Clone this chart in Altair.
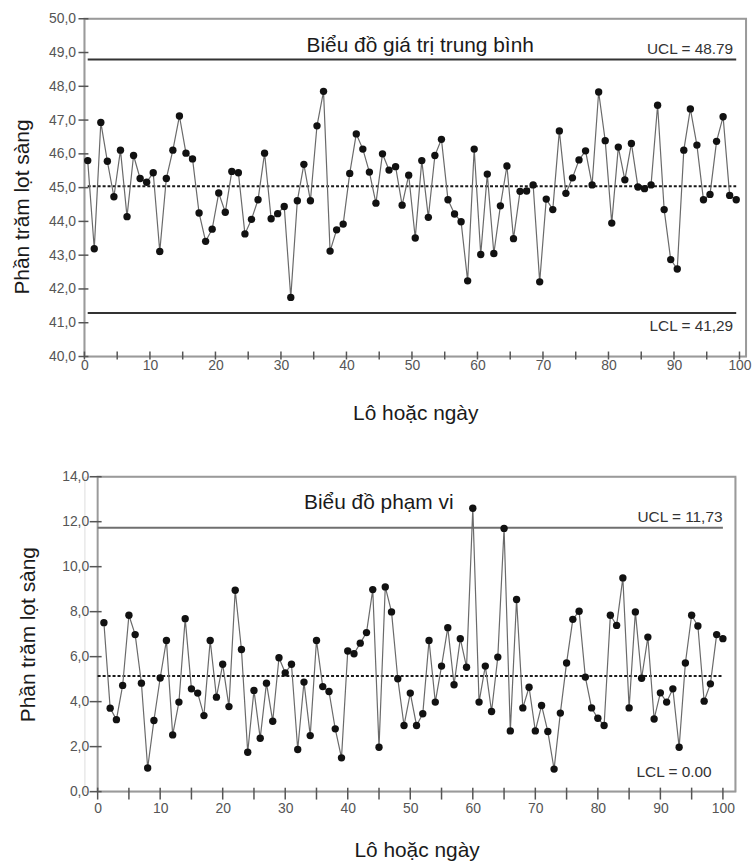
import altair as alt
import pandas as pd

# Lot / day numbers
lots = list(range(1, 101))

# Subgroup means (%)
mean_values = [
    45.80, 43.19, 46.93, 45.78, 44.73, 46.11, 44.14, 45.95, 45.27, 45.16,
    45.44, 43.11, 45.27, 46.11, 47.12, 46.02, 45.85, 44.25, 43.41, 43.77,
    44.84, 44.27, 45.48, 45.44, 43.63, 44.06, 44.64, 46.02, 44.08, 44.23,
    44.44, 41.75, 44.61, 45.69, 44.61, 46.83, 47.85, 43.12, 43.75, 43.92,
    45.42, 46.59, 46.14, 45.46, 44.54, 46.00, 45.52, 45.62, 44.48, 45.37,
    43.51, 45.80, 44.12, 45.95, 46.43, 44.64, 44.22, 43.99, 42.24, 46.14,
    43.02, 45.40, 43.05, 44.46, 45.64, 43.49, 44.89, 44.90, 45.08, 42.21,
    44.66, 44.35, 46.68, 44.83, 45.29, 45.82, 46.09, 45.08, 47.83, 46.39,
    43.95, 46.20, 45.23, 46.31, 45.02, 44.97, 45.08, 47.44, 44.35, 42.87,
    42.59, 46.11, 47.33, 46.26, 44.64, 44.80, 46.37, 47.10, 44.77, 44.64,
]

# Subgroup ranges (%)
range_values = [
    7.51, 3.71, 3.20, 4.72, 7.84, 6.98, 4.82, 1.05, 3.16, 5.05,
    6.72, 2.52, 3.98, 7.69, 4.57, 4.38, 3.38, 6.72, 4.20, 5.66,
    3.78, 8.95, 6.32, 1.75, 4.50, 2.37, 4.82, 3.13, 5.95, 5.28,
    5.66, 1.87, 4.87, 2.49, 6.72, 4.67, 4.45, 2.79, 1.50, 6.25,
    6.13, 6.60, 7.07, 8.98, 1.97, 9.10, 7.99, 5.02, 2.94, 4.38,
    2.94, 3.46, 6.72, 3.98, 5.58, 7.29, 4.75, 6.80, 5.53, 12.60,
    3.98, 5.58, 3.56, 5.98, 11.70, 2.70, 8.54, 3.72, 4.64, 2.70,
    3.83, 2.67, 1.00, 3.49, 5.72, 7.66, 8.02, 5.09, 3.72, 3.26,
    2.94, 7.84, 7.39, 9.50, 3.72, 7.99, 5.04, 6.87, 3.23, 4.39,
    3.98, 4.57, 1.97, 5.72, 7.84, 7.36, 4.02, 4.79, 6.98, 6.80,
]

# Control limits
mean_center, mean_ucl, mean_lcl = 45.04, 48.79, 41.29
range_center, range_ucl, range_lcl = 5.14, 11.73, 0.00

# Axis tick values
x_label_ticks = list(range(0, 101, 10))
x_minor_ticks = list(range(0, 101, 5))
mean_y_ticks = list(range(40, 51))
range_y_ticks = list(range(0, 15, 2))

FONT = "Liberation Sans"
FRAME = "#9a9a9a"
TICK = "#555555"
LABEL = "#555555"
INK = "#1a1a1a"


def panel(values, shift, x_domain, y_domain, y_ticks, center, ucl, lcl,
          heading, ucl_label, lcl_label, g):
    W, H, L = g["W"], g["H"], g["inset"]
    df = pd.DataFrame({"lot": lots, "value": values})
    base = alt.Chart(df).transform_calculate(pos=f"datum.lot - {shift}")

    # the plot frame starts `inset` px right of the panel origin
    xs = alt.Scale(domain=x_domain, range=[L, L + W], nice=False, zero=False)
    ys = alt.Scale(domain=y_domain, nice=False, zero=False)
    x_axis = alt.Axis(
        values=x_label_ticks, ticks=False, tickSize=0, domain=False, grid=False,
        labelFlush=False, labelPadding=g["xlabpad"], labelFontSize=14,
        labelColor=LABEL, labelFont=FONT,
        title="Lô hoặc ngày", titlePadding=g["xtitlepad"], titleFontSize=21,
        titleFontWeight="normal", titleColor=INK, titleFont=FONT,
    )
    y_axis = alt.Axis(
        values=y_ticks, ticks=False, tickSize=0, domain=False, grid=False,
        offset=-L,
        labelExpr="replace(format(datum.value, '.1f'), '.', ',')",
        labelPadding=g["ylabpad"], labelFontSize=14, labelColor=LABEL,
        labelFont=FONT,
        title="Phần trăm lọt sàng", titlePadding=g["ytitlepad"],
        titleY=g["ytitle_y"],
        titleFontSize=21, titleFontWeight="normal", titleColor=INK,
        titleFont=FONT,
    )

    def X(field):
        return alt.X(field, type="quantitative", scale=xs, axis=x_axis)

    def Y(field):
        return alt.Y(field, type="quantitative", scale=ys, axis=y_axis)

    def Yd(value):
        return alt.Y(datum=value, type="quantitative", scale=ys, axis=y_axis)

    frame = alt.Chart(pd.DataFrame({"k": [0]})).mark_rect(
        fill="white", fillOpacity=0, stroke=FRAME, strokeWidth=2
    ).encode(
        x=alt.X(datum=x_domain[0], type="quantitative", scale=xs, axis=x_axis),
        x2=alt.X2(datum=x_domain[1]),
        y=Yd(y_domain[0]),
        y2=alt.Y2(datum=y_domain[1]),
    )

    series = base.mark_line(color="#6a6a6a", strokeWidth=1.2).encode(
        x=X("pos"), y=Y("value")
    )
    dots = base.mark_circle(color="#111111", size=55, opacity=1).encode(
        x=X("pos"), y=Y("value")
    )

    span = base.transform_aggregate(x0="min(pos)", x1="max(pos)")
    if g["from_axis"]:
        span = span.transform_calculate(x0=str(x_domain[0]))
    ucl_line = span.mark_rule(color=g["limit_color"], strokeWidth=2).encode(
        x=X("x0"), x2="x1", y=Yd(ucl)
    )
    mid_line = span.mark_rule(color=INK, strokeWidth=2, strokeDash=[3, 2]).encode(
        x=X("x0"), x2="x1", y=Yd(center)
    )
    layers = [frame, ucl_line, mid_line]
    if lcl > y_domain[0]:
        lcl_line = span.mark_rule(color=g["limit_color"], strokeWidth=2).encode(
            x=X("x0"), x2="x1", y=Yd(lcl)
        )
        layers.append(lcl_line)

    x_tick_marks = alt.Chart(pd.DataFrame({"t": x_minor_ticks})).mark_rule(
        color=TICK, strokeWidth=1.5
    ).encode(x=X("t"), y=alt.value(H - g["xt_in"]), y2=alt.value(H + g["xt_out"]))
    y_tick_marks = alt.Chart(pd.DataFrame({"t": y_ticks})).mark_rule(
        color=TICK, strokeWidth=1.5
    ).encode(y=Y("t"), x=alt.value(L - g["yt_out"]), x2=alt.value(L + g["yt_in"]))

    texts = pd.DataFrame({
        "label": [heading, ucl_label, lcl_label],
    })
    head = alt.Chart(texts.iloc[[0]]).mark_text(
        font=FONT, fontSize=21, color=INK, align="center", baseline="alphabetic"
    ).encode(text="label:N", x=alt.value(L + g["head_x"]), y=alt.value(g["head_y"]))
    ucl_txt = alt.Chart(texts.iloc[[1]]).mark_text(
        font=FONT, fontSize=15.5, color="#333333", align="right",
        baseline="alphabetic"
    ).encode(text="label:N", x=alt.value(L + g["ucl_x"]), y=alt.value(g["ucl_y"]))
    lcl_txt = alt.Chart(texts.iloc[[2]]).mark_text(
        font=FONT, fontSize=15.5, color="#333333", align="right",
        baseline="alphabetic"
    ).encode(text="label:N", x=alt.value(L + g["lcl_x"]), y=alt.value(g["lcl_y"]))

    return alt.layer(
        *layers, series, dots, x_tick_marks, y_tick_marks, head, ucl_txt, lcl_txt
    ).properties(width=L + W, height=H)


mean_chart = panel(
    mean_values, 0.5, [0, 101], [40, 50], mean_y_ticks,
    mean_center, mean_ucl, mean_lcl,
    "Biểu đồ giá trị trung bình", "UCL = 48.79", "LCL = 41,29",
    dict(W=666, H=340, inset=0, xlabpad=2, xtitlepad=30, ylabpad=9,
         ytitlepad=16, ytitle_y=189,
         xt_in=5, xt_out=3, yt_out=6, yt_in=4, from_axis=False,
         limit_color="#333333",
         head_x=338, head_y=33.5, ucl_x=653, ucl_y=35, lcl_x=653, lcl_y=314),
)

range_chart = panel(
    range_values, 0, [0, 102], [0, 14], range_y_ticks,
    range_center, range_ucl, range_lcl,
    "Biểu đồ phạm vi", "UCL = 11,73", "LCL = 0.00",
    dict(W=642, H=317, inset=13.3, xlabpad=10, xtitlepad=24, ylabpad=9,
         ytitlepad=23, ytitle_y=158.5,
         xt_in=4, xt_out=8, yt_out=8, yt_in=4, from_axis=True,
         limit_color="#6f6f6f",
         head_x=283, head_y=33, ucl_x=629, ucl_y=46, lcl_x=618, lcl_y=302.5),
)

chart = alt.vconcat(mean_chart, range_chart, spacing=45).properties(
    padding={"left": 11, "top": 8, "right": 0, "bottom": 0}
).configure_view(
    stroke="transparent"
).configure(font=FONT, background="white")

chart.save("out.html", embed_options={"renderer": "svg", "actions": False})
